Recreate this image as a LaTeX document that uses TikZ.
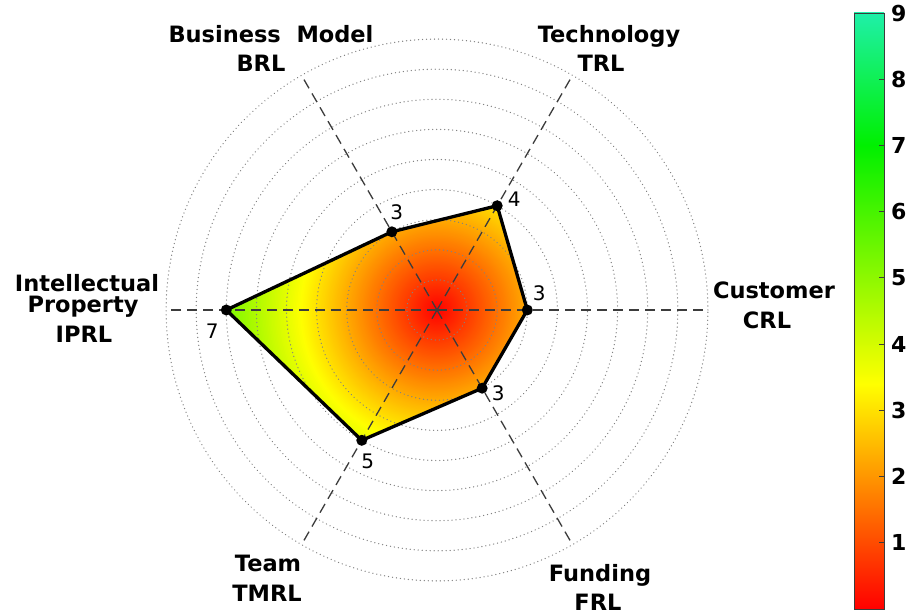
\documentclass[tikz,border=0pt]{standalone}
\usepackage{fontspec}
\setmainfont{DejaVu Sans}
\usetikzlibrary{calc}
\definecolor{ringgray}{RGB}{130,130,130}
\definecolor{axisgray}{RGB}{60,60,60}
\pgfdeclareverticalshading{cbarshade}{100bp}{rgb(0bp)=(1,0,0); rgb(25bp)=(1,0,0); rgb(43.89bp)=(1,1,0); rgb(63.89bp)=(0,0.94,0); rgb(75bp)=(0.12,0.94,0.66); rgb(100bp)=(0.12,0.94,0.66)}
\begin{document}
\begin{tikzpicture}[x=1bp,y=1bp,
  axislab/.style={font=\fontsize{22.5bp}{27bp}\selectfont\bfseries, anchor=base, inner sep=0pt},
  numlab/.style={font=\fontsize{20bp}{24bp}\selectfont, inner sep=0pt},
  cblab/.style={font=\fontsize{22bp}{26bp}\selectfont\bfseries, anchor=west, inner sep=0pt},
  ring/.style={ringgray, line width=1.3bp, line cap=round, dash pattern=on 0.1bp off 3.9bp},
  spoke/.style={axisgray, line width=1.3bp, dash pattern=on 10bp off 6bp},
  outline/.style={black, line width=3.3bp, line join=round},
  dot/.style={circle, fill=black, inner sep=0pt, minimum size=11bp},
  cbframe/.style={axisgray, line width=0.8bp},
]
\fill[white] (0,0) rectangle (912,616);
\useasboundingbox (0,0) rectangle (912,616);

\coordinate (O) at (437,306);
\coordinate (pC) at ($(O)+(0:90.3)$);
\coordinate (pT) at ($(O)+(60:120.4)$);
\coordinate (pB) at ($(O)+(120:90.3)$);
\coordinate (pI) at ($(O)+(180:210.7)$);
\coordinate (pM) at ($(O)+(240:150.5)$);
\coordinate (pF) at ($(O)+(300:90.3)$);

% radial colour fill clipped to the polygon
\begin{scope}
  \clip (pC) -- (pT) -- (pB) -- (pI) -- (pM) -- (pF) -- cycle;
  \foreach \i in {142,141,...,1}{
    \pgfmathsetmacro{\vv}{0.75*\i/20}
    \pgfmathsetmacro{\cR}{\vv<3.4 ? 1 : (\vv<7 ? 1-(\vv-3.4)/3.6 : 0)}
    \pgfmathsetmacro{\cG}{\vv<3.4 ? \vv/3.4 : (\vv<7 ? 1-0.06*(\vv-3.4)/3.6 : 0.94)}
    \definecolor{fillc}{rgb}{\cR,\cG,0}
    \fill[fillc] (O) circle ({\i/20*30.1});
  }
\end{scope}

% dotted rings
\foreach \k in {1,...,9}{
  \draw[ring] (O) circle ({\k*30.1});
}

% dashed spokes
\foreach \a in {0,60,...,300}{
  \coordinate (e\a) at ($(O)+(\a:270.9)$);
  \draw[spoke] (O) -- (e\a);
}

% polygon outline and points
\draw[outline] (pC) -- (pT) -- (pB) -- (pI) -- (pM) -- (pF) -- cycle;
\node[dot] (dC) at (pC) {};
\node[dot] (dT) at (pT) {};
\node[dot] (dB) at (pB) {};
\node[dot] (dI) at (pI) {};
\node[dot] (dM) at (pM) {};
\node[dot] (dF) at (pF) {};

% value labels
\node[numlab] (nC) at ($(pC)+(12,17)$) {3};
\node[numlab] (nT) at ($(pT)+(17,7)$) {4};
\node[numlab] (nB) at ($(pB)+(5,20)$) {3};
\node[numlab] (nI) at ($(pI)+(-14,-21)$) {7};
\node[numlab] (nM) at ($(pM)+(6,-21)$) {5};
\node[numlab] (nF) at ($(pF)+(16,-5)$) {3};

% axis labels
\node[axislab] (lB1) at (271,573) {Business~~Model};
\node[axislab] (lB2) at (261,544) {BRL};
\node[axislab] (lT1) at (609,573) {Technology};
\node[axislab] (lT2) at (601,544) {TRL};
\node[axislab] (lI1) at (87,324) {Intellectual};
\node[axislab] (lI2) at (83,303) {Property};
\node[axislab] (lI3) at (84,273) {IPRL};
\node[axislab] (lC1) at (774,317) {Customer};
\node[axislab] (lC2) at (767,287) {CRL};
\node[axislab] (lM1) at (268,44) {Team};
\node[axislab] (lM2) at (267,14) {TMRL};
\node[axislab] (lF1) at (600,34) {Funding};
\node[axislab] (lF2) at (598,5) {FRL};

% colour bar
\shade[shading=cbarshade] (854,7) rectangle (884,603);
\draw[cbframe] (854,7) rectangle (884,603);
\foreach \k in {1,...,8}{
  \draw[cbframe] (884,{7+\k*66.22}) -- ++(-5,0);
}
\foreach \k in {1,...,9}{
  \node[cblab] (cb\k) at (891,{7+\k*66.22}) {\k};
}
\end{tikzpicture}
\end{document}
